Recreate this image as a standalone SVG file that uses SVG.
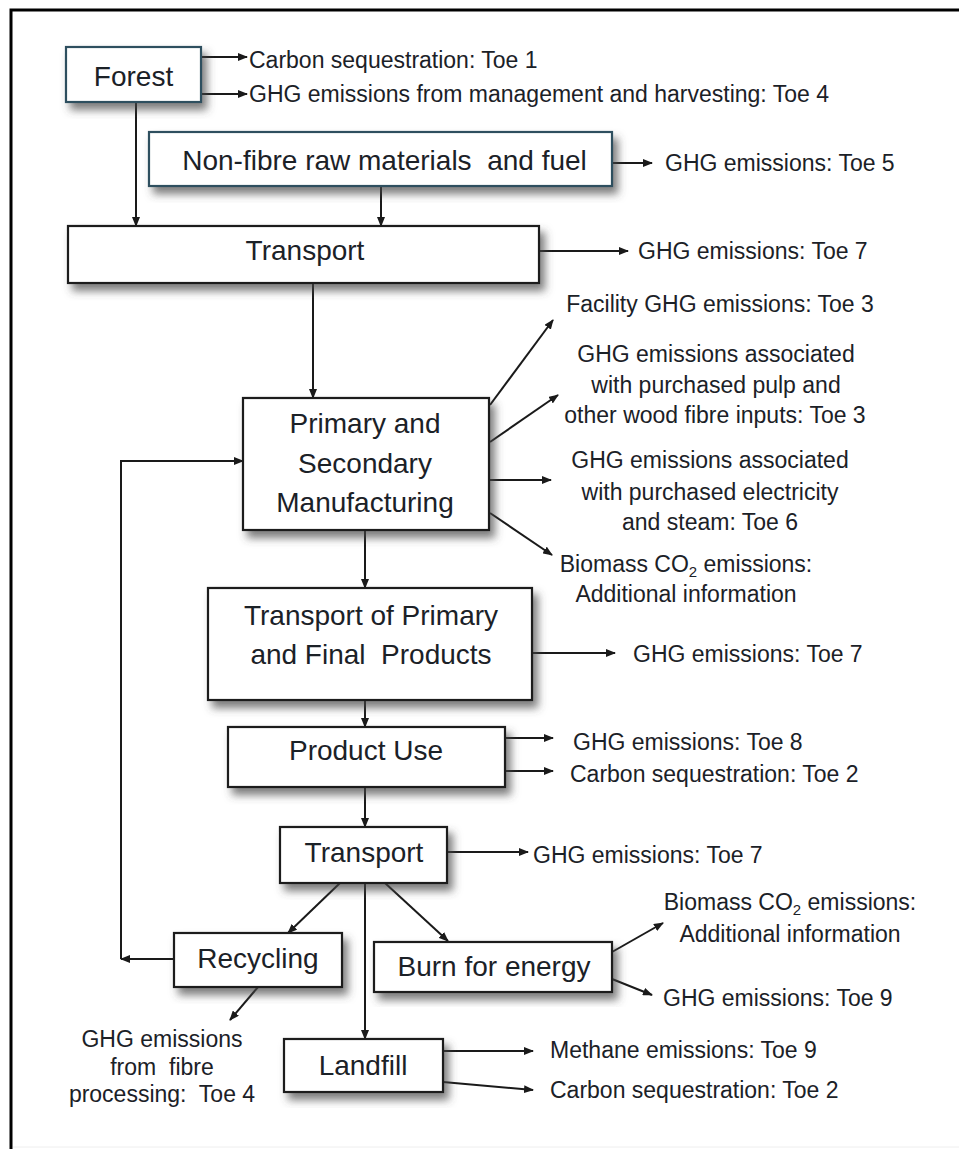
<svg xmlns="http://www.w3.org/2000/svg" width="959" height="1149" viewBox="0 0 959 1149">
<defs>
<marker id="ah" markerUnits="userSpaceOnUse" markerWidth="10" markerHeight="8" refX="9" refY="4" orient="auto">
<path d="M0,0 L10,4 L0,8 z" fill="#1a1a1a"/>
</marker>
<filter id="sh" x="-10%" y="-10%" width="125%" height="140%">
<feDropShadow dx="5" dy="7" stdDeviation="4" flood-color="#444" flood-opacity="0.7"/>
</filter>
<style>
.box{fill:#fff;stroke:#1a1a1a;stroke-width:2.2;filter:url(#sh)}
.boxb{fill:#fff;stroke:#2f4f5f;stroke-width:2.2;filter:url(#sh)}
.lbl{font-family:"Liberation Sans",Arial,sans-serif;font-size:28px;fill:#1b2127;text-anchor:middle;white-space:pre}
.sm{font-family:"Liberation Sans",Arial,sans-serif;font-size:23px;fill:#1b2127;white-space:pre}
.mid{text-anchor:middle}
.con{fill:none;stroke:#1a1a1a;stroke-width:2}
.arr{marker-end:url(#ah)}
</style>
</defs>
<rect x="0" y="0" width="959" height="1149" fill="#fff"/>
<path d="M11,1149 V10 H959" fill="none" stroke="#000" stroke-width="3"/>
<path d="M13,1147 H959" fill="none" stroke="#eeeeee" stroke-width="1"/>

<g id="connectors">
<path class="con arr" d="M201,57 H247"/>
<path class="con arr" d="M201,94 H247"/>
<path class="con arr" d="M136,102 V226"/>
<path class="con arr" d="M381,186 V226"/>
<path class="con arr" d="M612,163 H652"/>
<path class="con arr" d="M539,251 H628"/>
<path class="con arr" d="M313,283 V398"/>
<path class="con arr" d="M490,405 L553,320"/>
<path class="con arr" d="M490,442 L558,395"/>
<path class="con arr" d="M490,480 H551"/>
<path class="con arr" d="M490,513 L552,555"/>
<path class="con arr" d="M365,530 V588"/>
<path class="con arr" d="M532,653 H615"/>
<path class="con arr" d="M365,700 V727"/>
<path class="con arr" d="M505,738 H553"/>
<path class="con arr" d="M505,771 H553"/>
<path class="con arr" d="M365,787 V827"/>
<path class="con arr" d="M447,852 H528"/>
<path class="con arr" d="M340,883 L288,933"/>
<path class="con arr" d="M385,883 L448,941"/>
<path class="con arr" d="M365,883 V1039"/>
<path class="con arr" d="M174,959 H121"/>
<path class="con arr" d="M121,959 V461 H243"/>
<path class="con arr" d="M258,987 L230,1020"/>
<path class="con arr" d="M612,952 L663,923"/>
<path class="con arr" d="M612,979 L652,995"/>
<path class="con arr" d="M443,1051 H533"/>
<path class="con arr" d="M443,1082 L533,1090"/>
</g>

<g id="forest">
<rect class="boxb" x="66" y="47" width="135" height="55"/>
<text class="lbl" x="133.5" y="86">Forest</text>
</g>
<g id="forest-outputs">
<text class="sm" x="249" y="68">Carbon sequestration: Toe 1</text>
<text class="sm" x="249" y="102">GHG emissions from management and harvesting: Toe 4</text>
</g>

<g id="nonfibre">
<rect class="boxb" x="149" y="132" width="463" height="54"/>
<text class="lbl" x="384.5" y="170">Non-fibre raw materials  and fuel</text>
</g>
<g id="nonfibre-output">
<text class="sm" x="665" y="171">GHG emissions: Toe 5</text>
</g>

<g id="transport1">
<rect class="box" x="68" y="226" width="471" height="57"/>
<text class="lbl" x="305" y="260">Transport</text>
</g>
<g id="transport1-output">
<text class="sm" x="638" y="259">GHG emissions: Toe 7</text>
</g>

<g id="manufacturing">
<rect class="box" x="243" y="398" width="246" height="132"/>
<text class="lbl" x="365" y="433">Primary and</text>
<text class="lbl" x="365" y="473">Secondary</text>
<text class="lbl" x="365" y="512">Manufacturing</text>
</g>
<g id="manufacturing-outputs">
<text class="sm mid" x="720" y="312">Facility GHG emissions: Toe 3</text>
<text class="sm mid" x="716" y="362">GHG emissions associated</text>
<text class="sm mid" x="716" y="393">with purchased pulp and</text>
<text class="sm mid" x="715" y="423">other wood fibre inputs: Toe 3</text>
<text class="sm mid" x="710" y="468">GHG emissions associated</text>
<text class="sm mid" x="710" y="500">with purchased electricity</text>
<text class="sm mid" x="710" y="530">and steam: Toe 6</text>
<text class="sm mid" x="686" y="572">Biomass CO<tspan font-size="15" dy="5">2</tspan><tspan dy="-5"> emissions:</tspan></text>
<text class="sm mid" x="686" y="602">Additional information</text>
</g>

<g id="transport-products">
<rect class="box" x="208" y="588" width="324" height="112"/>
<text class="lbl" x="371" y="625">Transport of Primary</text>
<text class="lbl" x="371" y="664">and Final  Products</text>
</g>
<g id="transport-products-output">
<text class="sm" x="633" y="662">GHG emissions: Toe 7</text>
</g>

<g id="product-use">
<rect class="box" x="228" y="727" width="277" height="60"/>
<text class="lbl" x="366" y="760">Product Use</text>
</g>
<g id="product-use-outputs">
<text class="sm" x="573" y="750">GHG emissions: Toe 8</text>
<text class="sm" x="570" y="782">Carbon sequestration: Toe 2</text>
</g>

<g id="transport2">
<rect class="box" x="280" y="827" width="167" height="56"/>
<text class="lbl" x="364" y="862">Transport</text>
</g>
<g id="transport2-output">
<text class="sm" x="533" y="863">GHG emissions: Toe 7</text>
</g>

<g id="recycling">
<rect class="box" x="174" y="933" width="168" height="54"/>
<text class="lbl" x="258" y="968">Recycling</text>
</g>
<g id="recycling-output">
<text class="sm mid" x="162" y="1047">GHG emissions</text>
<text class="sm mid" x="162" y="1075">from  fibre</text>
<text class="sm mid" x="162" y="1102">processing:  Toe 4</text>
</g>

<g id="burn">
<rect class="box" x="374" y="942" width="238" height="50"/>
<text class="lbl" x="494" y="976">Burn for energy</text>
</g>
<g id="burn-outputs">
<text class="sm mid" x="790" y="910">Biomass CO<tspan font-size="15" dy="5">2</tspan><tspan dy="-5"> emissions:</tspan></text>
<text class="sm mid" x="790" y="942">Additional information</text>
<text class="sm" x="663" y="1006">GHG emissions: Toe 9</text>
</g>

<g id="landfill">
<rect class="box" x="284" y="1039" width="159" height="53"/>
<text class="lbl" x="363" y="1075">Landfill</text>
</g>
<g id="landfill-outputs">
<text class="sm" x="550" y="1058">Methane emissions: Toe 9</text>
<text class="sm" x="550" y="1098">Carbon sequestration: Toe 2</text>
</g>
</svg>
